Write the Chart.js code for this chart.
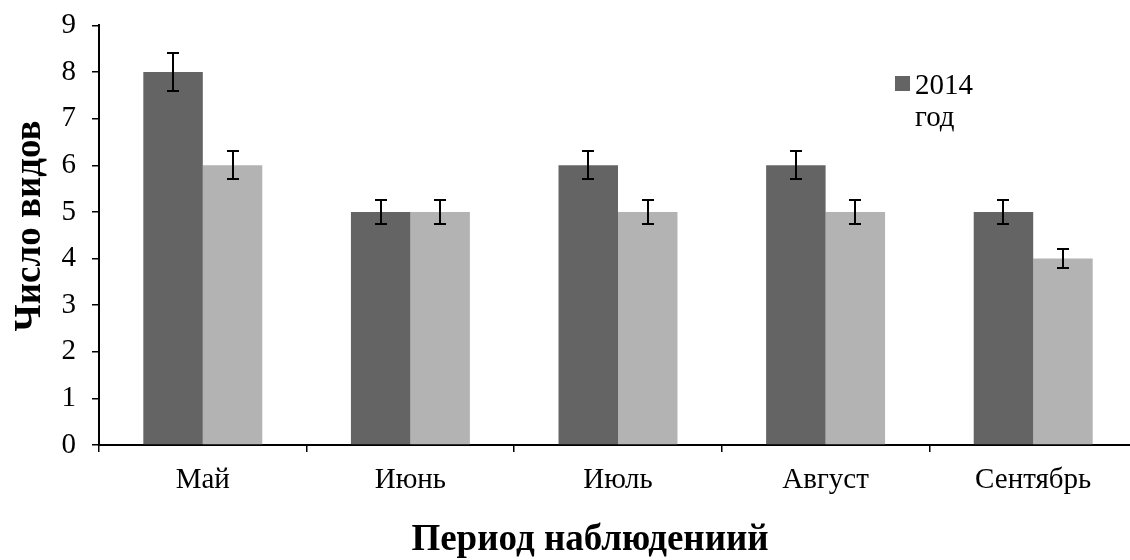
<!DOCTYPE html>
<html>
<head>
<meta charset="utf-8">
<script src="https://cdn.jsdelivr.net/npm/chart.js@4/dist/chart.umd.min.js"></script>
<style>
  html, body { margin: 0; padding: 0; overflow: hidden; background: #fff; }
  #wrap { position: relative; width: 1140px; height: 560px; }
</style>
</head>
<body>
<div id="wrap"><canvas id="c"></canvas></div>
<script>
// Months of observation
const categories = ['Май', 'Июнь', 'Июль', 'Август', 'Сентябрь'];
// Number of species per month
const species2014 = [8, 5, 6, 6, 5];
const species2015 = [6, 5, 5, 5, 4];
// Error bar half-widths
const err2014 = [0.4, 0.25, 0.3, 0.3, 0.25];
const err2015 = [0.3, 0.25, 0.25, 0.25, 0.2];
// Y axis tick values
const yTicks = [0, 1, 2, 3, 4, 5, 6, 7, 8, 9];

const SERIF = '"Liberation Serif", "Times New Roman", serif';
const TICK_SIZE = 29;

// Symmetric error bars on top of every bar
const errorBars = {
  id: 'errorBars',
  afterDatasetsDraw(chart) {
    const ctx = chart.ctx;
    const y = chart.scales.y;
    chart.data.datasets.forEach((ds, i) => {
      const meta = chart.getDatasetMeta(i);
      meta.data.forEach((bar, j) => {
        const v = ds.data[j], e = ds.errors[j];
        const top = Math.round(y.getPixelForValue(v + e));
        const bot = Math.round(y.getPixelForValue(v - e));
        const x = Math.round(bar.x);
        ctx.save();
        ctx.strokeStyle = '#000';
        ctx.lineWidth = 2;
        ctx.beginPath();
        ctx.moveTo(x, top); ctx.lineTo(x, bot);
        ctx.moveTo(x - 6, top); ctx.lineTo(x + 6, top);
        ctx.moveTo(x - 6, bot); ctx.lineTo(x + 6, bot);
        ctx.stroke();
        ctx.restore();
      });
    });
  }
};

// Legend entry with wrapped label, and both axis titles
const annotations = {
  id: 'annotations',
  afterDraw(chart) {
    const ctx = chart.ctx;
    const ds = chart.data.datasets[0];
    const parts = ds.label.split(' ');
    ctx.save();
    ctx.fillStyle = ds.backgroundColor;
    ctx.fillRect(895, 76, 15, 15);
    ctx.fillStyle = '#000';
    ctx.font = `29px ${SERIF}`;
    ctx.textAlign = 'left';
    ctx.textBaseline = 'alphabetic';
    ctx.fillText(parts[0], 915, 94);
    ctx.fillText(parts[1], 915, 126);

    ctx.font = `bold 37px ${SERIF}`;
    ctx.textAlign = 'center';
    ctx.textBaseline = 'middle';
    ctx.fillText('Период наблюдениий', 590, 540);

    ctx.translate(30, 226);
    ctx.rotate(-Math.PI / 2);
    ctx.fillText('Число видов', 0, 0);
    ctx.restore();
  }
};

new Chart(document.getElementById('c'), {
  type: 'bar',
  data: {
    labels: categories,
    datasets: [
      { label: '2014 год', data: species2014, errors: err2014,
        backgroundColor: '#646464', borderWidth: 0 },
      { label: '2015 год', data: species2015, errors: err2015,
        backgroundColor: '#b3b3b3', borderWidth: 0 }
    ]
  },
  options: {
    responsive: true,
    maintainAspectRatio: false,
    animation: false,
    layout: { padding: { top: 25, right: 3, left: 0, bottom: 0 } },
    datasets: { bar: { categoryPercentage: 0.573, barPercentage: 1 } },
    plugins: { legend: { display: false }, tooltip: { enabled: false } },
    scales: {
      x: {
        offset: true,
        grid: { offset: true, drawOnChartArea: false, drawTicks: true, tickLength: 7, color: '#000', lineWidth: 1.5 },
        border: { color: '#000', width: 2 },
        ticks: { font: { family: SERIF, size: TICK_SIZE }, color: '#000', padding: 11,
                 maxRotation: 0, autoSkip: false },
        afterFit(s) { s.height = 115; }
      },
      y: {
        min: yTicks[0],
        max: yTicks[yTicks.length - 1],
        afterBuildTicks(s) { s.ticks = yTicks.map(v => ({ value: v })); },
        grid: { drawOnChartArea: false, drawTicks: true, tickLength: 7, color: '#000', lineWidth: 1.5 },
        border: { color: '#000', width: 2 },
        ticks: { font: { family: SERIF, size: TICK_SIZE, lineHeight: 0.65 }, color: '#000', padding: 16 },
        afterFit(s) { s.width = 99; }
      }
    }
  },
  plugins: [errorBars, annotations]
});
</script>
</body>
</html>
